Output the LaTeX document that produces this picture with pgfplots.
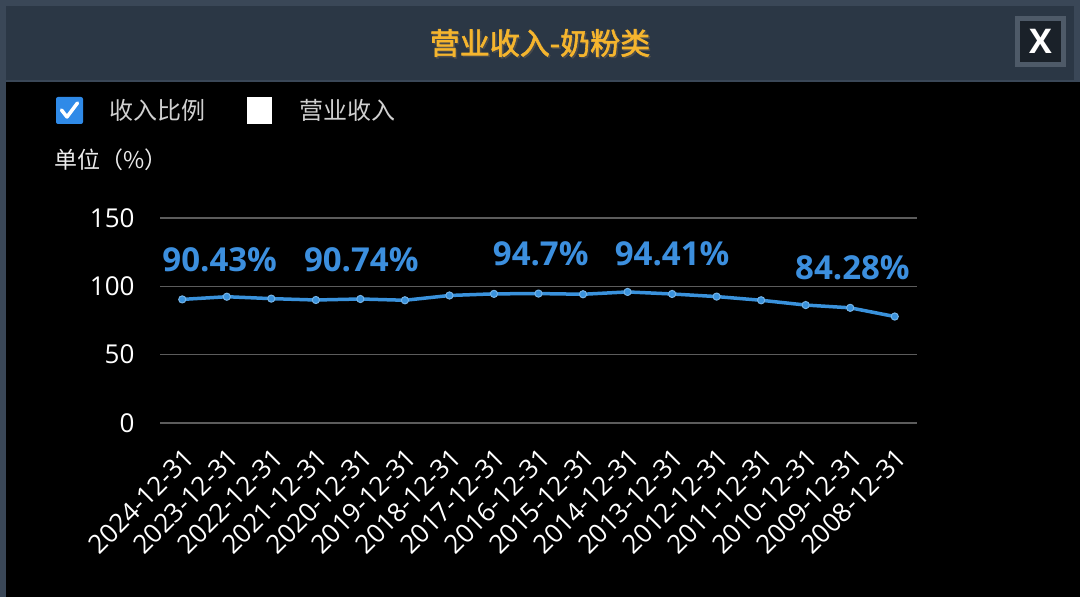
\documentclass[border=0pt]{standalone}
\usepackage{fontspec}
\setmainfont{Open Sans}
\newfontfamily\cjk{Noto Sans CJK SC}
\newfontfamily\cjkb{Noto Sans CJK SC}[FakeBold=2]
\usepackage{pgfplots}
\pgfplotsset{compat=1.18}

\definecolor{frame}{HTML}{3A4757}
\definecolor{header}{HTML}{2B3745}
\definecolor{gold}{HTML}{F5B52E}
\definecolor{lineblue}{HTML}{3A92DC}
\definecolor{labelblue}{HTML}{3C8FDE}
\definecolor{gridgray}{HTML}{5C5C5C}
\definecolor{legendgray}{HTML}{D0D0D0}
\definecolor{checkblue}{HTML}{2F8AE8}

% revenue share, 2024-12-31 back to 2008-12-31
\pgfplotstableread{
idx ratio
0  90.43
1  92.4
2  91.0
3  90.0
4  90.74
5  89.8
6  93.3
7  94.5
8  94.7
9  94.2
10 95.9
11 94.41
12 92.5
13 89.8
14 86.3
15 84.28
16 77.9
}\ratiodata

\begin{document}
\begin{tikzpicture}
\path[use as bounding box] (0bp,0bp) rectangle (1080bp,597bp);
% window frame
\fill[frame] (0bp,0bp) rectangle (1080bp,597bp);
\fill[header] (6bp,517bp) rectangle (1074bp,591bp);
\fill[black] (6bp,0bp) rectangle (1080bp,515bp);
% title
\node[text=black!70, font=\cjkb\fontsize{30bp}{36bp}\selectfont] at (541.5bp,552.5bp) {营业收入-奶粉类};
\node[text=gold, font=\cjkb\fontsize{30bp}{36bp}\selectfont] at (540bp,554bp) {营业收入-奶粉类};
% close button
\fill[frame!90!white] (1015bp,530bp) rectangle (1066bp,581bp);
\fill[black!40!header] (1020bp,535bp) rectangle (1061bp,576bp);
\node[text=white, font=\fontsize{34bp}{40bp}\selectfont\bfseries] at (1040.5bp,555.5bp) {X};
% legend
\fill[checkblue, rounded corners=2bp] (56bp,473bp) rectangle (83bp,500bp);
\draw[white, line width=3.5bp, line cap=round, line join=round] (61.5bp,487bp) -- (67bp,480bp) -- (77.5bp,494bp);
\node[anchor=west, text=legendgray, font=\cjk\fontsize{24bp}{28bp}\selectfont] at (106bp,487bp) {收入比例};
\fill[white] (247bp,473bp) rectangle (272bp,500bp);
\node[anchor=west, text=legendgray, font=\cjk\fontsize{24bp}{28bp}\selectfont] at (296bp,487bp) {营业收入};
% unit
\node[anchor=west, text=white!92!black, font=\cjk\fontsize{23bp}{28bp}\selectfont] at (51bp,437bp) {单位（\%）};

\begin{axis}[
    at={(160bp,174bp)}, anchor=south west,
    width=757bp, height=205bp, scale only axis,
    xmin=-0.5, xmax=16.5,
    ymin=0, ymax=150,
    ytick={0,50,100,150},
    xtick={0,...,16},
    xticklabels={2024-12-31,2023-12-31,2022-12-31,2021-12-31,2020-12-31,2019-12-31,2018-12-31,2017-12-31,2016-12-31,2015-12-31,2014-12-31,2013-12-31,2012-12-31,2011-12-31,2010-12-31,2009-12-31,2008-12-31},
    axis line style={draw=none},
    major tick length=0pt,
    ymajorgrids,
    grid style={gridgray, line width=1.2bp},
    /pgf/number format/assume math mode=true,
    yticklabel style={text=white, font=\fontsize{26bp}{30bp}\selectfont, anchor=east, xshift=-22bp},
    xticklabel style={text=white, font=\fontsize{26bp}{30bp}\selectfont, rotate=45, anchor=east, xshift=-13bp, yshift=-26bp},
    clip=false,
]
\addplot[lineblue, line width=3.5bp, line join=round,
    mark=*, mark size=3.6bp, mark options={fill=lineblue, draw=lineblue!70!white, line width=1bp}]
    table[x=idx, y=ratio] {\ratiodata};
\node[text=labelblue, font=\fontsize{33bp}{38bp}\selectfont\bfseries] at (axis cs:0.84,119.1) {90.43\%};
\node[text=labelblue, font=\fontsize{33bp}{38bp}\selectfont\bfseries] at (axis cs:4.02,119.1) {90.74\%};
\node[text=labelblue, font=\fontsize{33bp}{38bp}\selectfont\bfseries] at (axis cs:8.05,123.5) {94.7\%};
\node[text=labelblue, font=\fontsize{33bp}{38bp}\selectfont\bfseries] at (axis cs:11.0,123.5) {94.41\%};
\node[text=labelblue, font=\fontsize{33bp}{38bp}\selectfont\bfseries] at (axis cs:15.05,113.3) {84.28\%};
\end{axis}
\end{tikzpicture}
\end{document}
